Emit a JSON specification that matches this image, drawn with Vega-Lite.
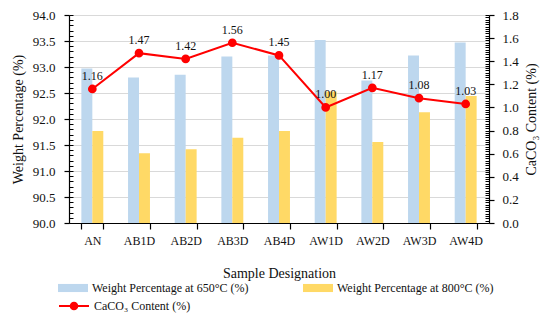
{
  "$schema": "https://vega.github.io/schema/vega-lite/v6.json",
  "width": 420,
  "height": 208,
  "autosize": {"type": "none"},
  "padding": {"left": 69, "top": 15, "right": 61, "bottom": 107},
  "background": "white",
  "config": {
    "view": {"stroke": null},
    "font": "Liberation Serif",
    "axis": {"labelFont": "Liberation Serif", "titleFont": "Liberation Serif", "labelColor": "#111", "titleColor": "#111", "titleFontWeight": "normal"},
    "legend": {"labelFont": "Liberation Serif", "labelColor": "#111"}
  },
  "datasets": {
    "bars": [
      {"sample": "AN", "series": "Weight Percentage at 650°C (%)", "value": 92.97},
      {"sample": "AB1D", "series": "Weight Percentage at 650°C (%)", "value": 92.80},
      {"sample": "AB2D", "series": "Weight Percentage at 650°C (%)", "value": 92.85},
      {"sample": "AB3D", "series": "Weight Percentage at 650°C (%)", "value": 93.20},
      {"sample": "AB4D", "series": "Weight Percentage at 650°C (%)", "value": 93.22},
      {"sample": "AW1D", "series": "Weight Percentage at 650°C (%)", "value": 93.52},
      {"sample": "AW2D", "series": "Weight Percentage at 650°C (%)", "value": 92.74},
      {"sample": "AW3D", "series": "Weight Percentage at 650°C (%)", "value": 93.22},
      {"sample": "AW4D", "series": "Weight Percentage at 650°C (%)", "value": 93.47},
      {"sample": "AN", "series": "Weight Percentage at 800°C (%)", "value": 91.77},
      {"sample": "AB1D", "series": "Weight Percentage at 800°C (%)", "value": 91.34},
      {"sample": "AB2D", "series": "Weight Percentage at 800°C (%)", "value": 91.42},
      {"sample": "AB3D", "series": "Weight Percentage at 800°C (%)", "value": 91.64},
      {"sample": "AB4D", "series": "Weight Percentage at 800°C (%)", "value": 91.77},
      {"sample": "AW1D", "series": "Weight Percentage at 800°C (%)", "value": 92.53},
      {"sample": "AW2D", "series": "Weight Percentage at 800°C (%)", "value": 91.56},
      {"sample": "AW3D", "series": "Weight Percentage at 800°C (%)", "value": 92.13},
      {"sample": "AW4D", "series": "Weight Percentage at 800°C (%)", "value": 92.44}
    ],
    "line": [
      {"sample": "AN", "caco3": 1.16},
      {"sample": "AB1D", "caco3": 1.47},
      {"sample": "AB2D", "caco3": 1.42},
      {"sample": "AB3D", "caco3": 1.56},
      {"sample": "AB4D", "caco3": 1.45},
      {"sample": "AW1D", "caco3": 1.00},
      {"sample": "AW2D", "caco3": 1.17},
      {"sample": "AW3D", "caco3": 1.08},
      {"sample": "AW4D", "caco3": 1.03}
    ]
  },
  "resolve": {"scale": {"y": "independent"}},
  "encoding": {
    "x": {
      "field": "sample",
      "type": "nominal",
      "sort": ["AN", "AB1D", "AB2D", "AB3D", "AB4D", "AW1D", "AW2D", "AW3D", "AW4D"],
      "scale": {"paddingInner": 0.53, "paddingOuter": 0.265},
      "axis": {
        "title": "Sample Designation",
        "titleFont": "Liberation Serif",
        "titleFontSize": 14,
        "titlePadding": 20,
        "labelFont": "Liberation Serif",
        "labelAngle": 0,
        "labelFontSize": 12,
        "labelPadding": 6,
        "tickBand": "extent",
        "tickSize": 6,
        "tickColor": "#000",
        "domainColor": "#000",
        "domainWidth": 1.2,
        "tickWidth": 1.2
      }
    }
  },
  "layer": [
    {
      "data": {"name": "bars"},
      "mark": {"type": "bar", "clip": true},
      "encoding": {
        "xOffset": {"field": "series", "type": "nominal"},
        "y": {
          "field": "value",
          "type": "quantitative",
          "scale": {"domain": [90, 94], "zero": false, "nice": false},
          "axis": {
            "orient": "left",
            "title": "Weight Percentage (%)",
            "titleFont": "Liberation Serif",
            "titleFontSize": 14,
            "titlePadding": 7,
            "values": [90, 90.5, 91, 91.5, 92, 92.5, 93, 93.5, 94],
            "format": ".1f",
            "labelFont": "Liberation Serif",
            "labelFontSize": 13,
            "labelPadding": 9,
            "grid": true,
            "gridColor": "#d9d9d9",
            "tickSize": 5,
            "tickColor": "#000",
            "domainColor": "#000",
            "domainWidth": 1.2,
            "tickWidth": 1.2
          }
        },
        "fill": {
          "field": "series",
          "type": "nominal",
          "scale": {"domain": ["Weight Percentage at 650°C (%)", "Weight Percentage at 800°C (%)"], "range": ["#BDD7EE", "#FFD966"]},
          "legend": {
            "title": null,
            "orient": "none",
            "legendX": -11,
            "legendY": 258,
            "direction": "horizontal",
            "columns": 2,
            "columnPadding": 54,
            "symbolType": "M-1,-0.27L1,-0.27L1,0.27L-1,0.27Z",
            "symbolSize": 900,
            "symbolStrokeWidth": 0,
            "labelFontSize": 12,
            "labelOffset": 4
          }
        }
      }
    },
    {
      "data": {"name": "bars"},
      "mark": {"type": "point", "opacity": 0},
      "encoding": {
        "y": {
          "field": "value",
          "type": "quantitative",
          "scale": {"domain": [90, 94], "zero": false, "nice": false},
          "axis": {
            "orient": "left",
            "title": null,
            "labels": false,
            "domain": false,
            "grid": false,
            "values": [90, 90.1, 90.2, 90.3, 90.4, 90.5, 90.6, 90.7, 90.8, 90.9, 91, 91.1, 91.2, 91.3, 91.4, 91.5, 91.6, 91.7, 91.8, 91.9, 92, 92.1, 92.2, 92.3, 92.4, 92.5, 92.6, 92.7, 92.8, 92.9, 93, 93.1, 93.2, 93.3, 93.4, 93.5, 93.6, 93.7, 93.8, 93.9, 94],
            "tickSize": -4,
            "tickColor": "#000",
            "tickWidth": 1
          }
        }
      }
    },
    {
      "data": {"name": "line"},
      "mark": {"type": "line", "color": "#FF0000", "strokeWidth": 2, "point": {"filled": true, "fill": "#FF0000", "size": 45}},
      "encoding": {
        "y": {
          "field": "caco3",
          "type": "quantitative",
          "scale": {"domain": [0, 1.8], "nice": false},
          "axis": {
            "orient": "right",
            "title": "CaCO₃ Content (%)",
            "titleFont": "Liberation Serif",
            "titleAngle": -90,
            "titleFontSize": 14,
            "titlePadding": 20,
            "values": [0, 0.2, 0.4, 0.6, 0.8, 1.0, 1.2, 1.4, 1.6, 1.8],
            "format": ".1f",
            "labelFont": "Liberation Serif",
            "labelFontSize": 13,
            "labelPadding": 8,
            "grid": false,
            "tickSize": 5,
            "tickColor": "#000",
            "domainColor": "#000",
            "domainWidth": 1.2,
            "tickWidth": 1.2
          }
        },
        "stroke": {
          "datum": "CaCO₃ Content (%)",
          "scale": {"range": ["#FF0000"]},
          "legend": {
            "title": null,
            "orient": "none",
            "legendX": -11,
            "legendY": 275,
            "symbolType": "M-1,0L1,0M0.22,0A0.22,0.22,0,1,1,-0.22,0A0.22,0.22,0,1,1,0.22,0Z",
            "symbolSize": 900,
            "symbolStrokeWidth": 2,
            "symbolStrokeColor": "#FF0000",
            "symbolFillColor": "#FF0000",
            "labelFontSize": 12,
            "labelOffset": 4
          }
        }
      }
    },
    {
      "data": {"name": "line"},
      "mark": {"type": "text", "dy": -13, "fontSize": 12, "font": "Liberation Serif", "color": "#111"},
      "encoding": {
        "y": {
          "field": "caco3",
          "type": "quantitative",
          "scale": {"domain": [0, 1.8], "nice": false},
          "axis": {
            "orient": "right",
            "title": null,
            "labels": false,
            "domain": false,
            "grid": false,
            "values": [0, 0.02, 0.04, 0.06, 0.08, 0.1, 0.12, 0.14, 0.16, 0.18, 0.2, 0.22, 0.24, 0.26, 0.28, 0.3, 0.32, 0.34, 0.36, 0.38, 0.4, 0.42, 0.44, 0.46, 0.48, 0.5, 0.52, 0.54, 0.56, 0.58, 0.6, 0.62, 0.64, 0.66, 0.68, 0.7, 0.72, 0.74, 0.76, 0.78, 0.8, 0.82, 0.84, 0.86, 0.88, 0.9, 0.92, 0.94, 0.96, 0.98, 1.0, 1.02, 1.04, 1.06, 1.08, 1.1, 1.12, 1.14, 1.16, 1.18, 1.2, 1.22, 1.24, 1.26, 1.28, 1.3, 1.32, 1.34, 1.36, 1.38, 1.4, 1.42, 1.44, 1.46, 1.48, 1.5, 1.52, 1.54, 1.56, 1.58, 1.6, 1.62, 1.64, 1.66, 1.68, 1.7, 1.72, 1.74, 1.76, 1.78, 1.8],
            "tickSize": -4,
            "tickColor": "#000",
            "tickWidth": 1
          }
        },
        "text": {"field": "caco3", "type": "quantitative", "format": ".2f"}
      }
    }
  ]
}
